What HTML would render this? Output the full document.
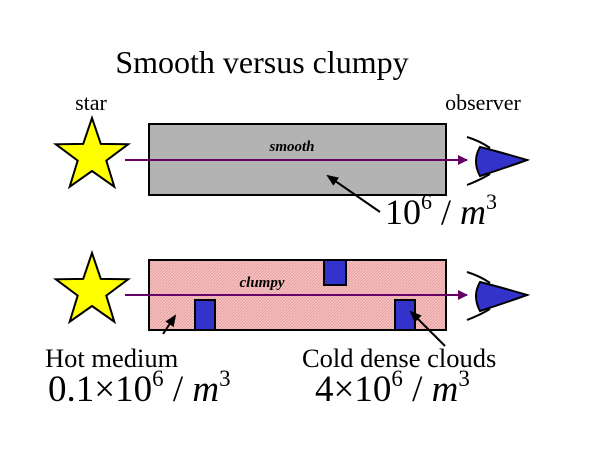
<!DOCTYPE html>
<html><head><style>html,body{margin:0;padding:0;background:#fff}svg{display:block}</style></head>
<body>
<svg width="600" height="450" xmlns="http://www.w3.org/2000/svg" font-family="Liberation Serif, serif">
<defs>
<marker id="ah" markerWidth="10" markerHeight="10" refX="9" refY="5" orient="auto" markerUnits="userSpaceOnUse"><path d="M0,0 L10,5 L0,10 z" fill="#660066"/></marker>
<marker id="bk" markerWidth="12" markerHeight="10" refX="10" refY="5" orient="auto" markerUnits="userSpaceOnUse"><path d="M0,0 L12,5 L0,10 z" fill="#000"/></marker>
<pattern id="hp" width="3" height="3" patternUnits="userSpaceOnUse"><rect width="3" height="3" fill="#f6c2c2"/><path d="M0,3 L3,0" stroke="#e49a9a" stroke-width="0.8"/></pattern>
<g id="star"><polygon points="92,118 100.8,143.9 128.1,144.3 106.3,160.6 114.3,186.7 92,171 69.7,186.7 77.7,160.6 55.9,144.3 83.2,143.9" fill="#ffff00" stroke="#000" stroke-width="2" stroke-linejoin="miter"/></g>
<g id="eye"><path d="M480,147 Q500,152 527,160 Q505,168 480,176 Q472,161 480,147 z" fill="#3333cc" stroke="#000" stroke-width="2"/><path d="M467,137 Q480,141 490,148" fill="none" stroke="#000" stroke-width="2"/><path d="M467,185 Q480,180 490,174" fill="none" stroke="#000" stroke-width="2"/><line x1="524" y1="160" x2="528" y2="160" stroke="#000" stroke-width="2"/></g>
</defs>
<text x="262" y="73" font-size="32" text-anchor="middle">Smooth versus clumpy</text>
<text x="91" y="110" font-size="22" text-anchor="middle">star</text>
<text x="483" y="110" font-size="22" text-anchor="middle">observer</text>
<use href="#star"/>
<rect x="149" y="124" width="297" height="71" fill="#b3b3b3" stroke="#000" stroke-width="2"/>
<text x="292" y="151" font-size="15" font-weight="bold" font-style="italic" text-anchor="middle">smooth</text>
<line x1="125" y1="160" x2="467" y2="160" stroke="#660066" stroke-width="2" marker-end="url(#ah)"/>
<use href="#eye"/>
<line x1="380" y1="212" x2="328" y2="176" stroke="#000" stroke-width="2" marker-end="url(#bk)"/>
<text x="385" y="224" font-size="36">10<tspan dy="-15" font-size="22">6</tspan><tspan dy="15"> / </tspan><tspan font-style="italic">m</tspan><tspan dy="-15" font-size="22">3</tspan></text>
<use href="#star" y="135"/>
<rect x="149" y="260" width="297" height="70" fill="url(#hp)" stroke="#000" stroke-width="2"/>
<rect x="324" y="260" width="22" height="25" fill="#3333cc" stroke="#000" stroke-width="2"/>
<rect x="195" y="300" width="20" height="30" fill="#3333cc" stroke="#000" stroke-width="2"/>
<rect x="395" y="300" width="20" height="30" fill="#3333cc" stroke="#000" stroke-width="2"/>
<text x="262" y="287" font-size="15" font-weight="bold" font-style="italic" text-anchor="middle">clumpy</text>
<line x1="125" y1="295" x2="467" y2="295" stroke="#660066" stroke-width="2" marker-end="url(#ah)"/>
<use href="#eye" y="135"/>
<line x1="163" y1="334" x2="175" y2="316" stroke="#000" stroke-width="2" marker-end="url(#bk)"/>
<line x1="445" y1="346" x2="411" y2="312" stroke="#000" stroke-width="2" marker-end="url(#bk)"/>
<text x="45" y="367" font-size="26.5">Hot medium</text>
<text x="302" y="367" font-size="26.5">Cold dense clouds</text>
<text x="48" y="401" font-size="37">0.1×10<tspan dy="-15" font-size="23">6</tspan><tspan dy="15"> / </tspan><tspan font-style="italic">m</tspan><tspan dy="-15" font-size="23">3</tspan></text>
<text x="315" y="401" font-size="37">4×10<tspan dy="-15" font-size="23">6</tspan><tspan dy="15"> / </tspan><tspan font-style="italic">m</tspan><tspan dy="-15" font-size="23">3</tspan></text>
</svg>
</body></html>
